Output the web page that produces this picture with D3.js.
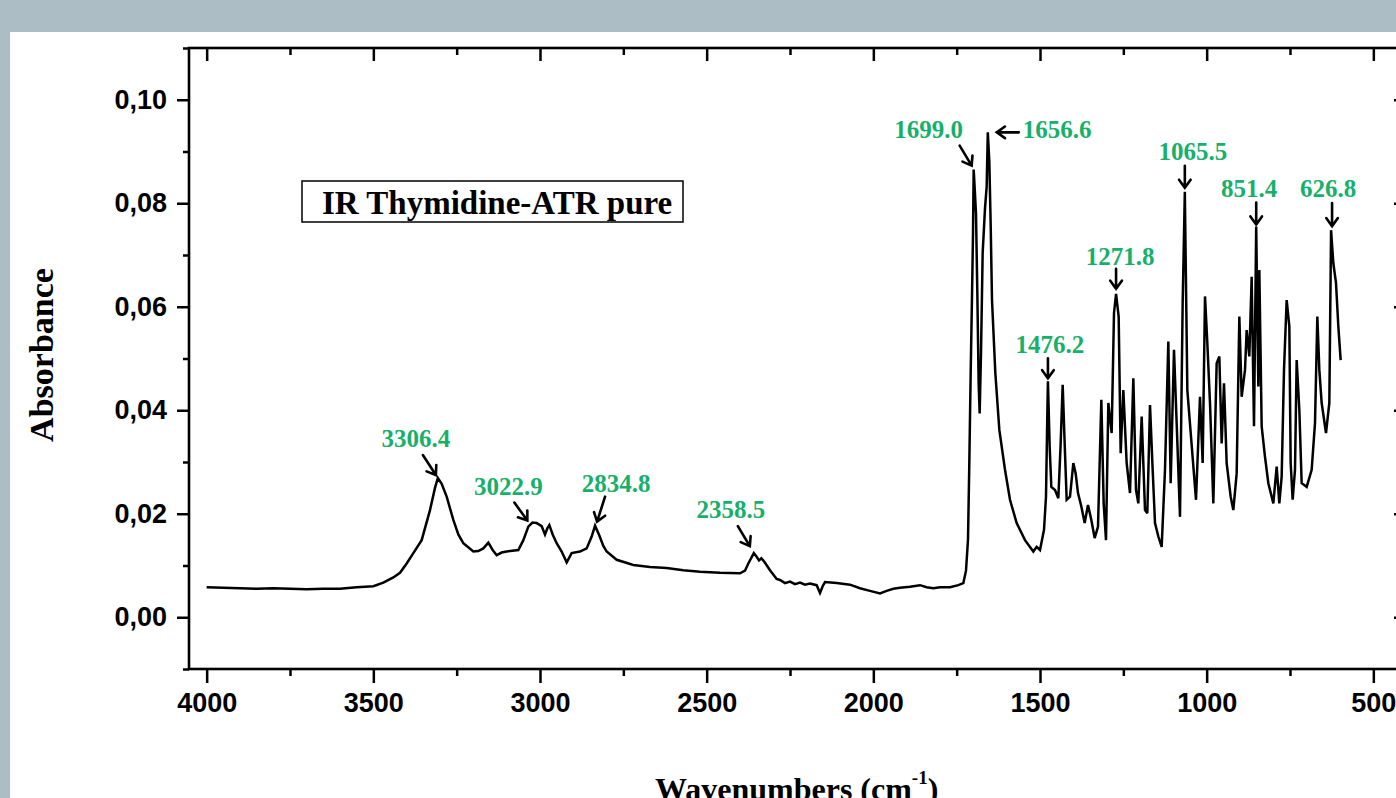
<!DOCTYPE html>
<html><head><meta charset="utf-8">
<script src="https://cdn.jsdelivr.net/npm/d3@7"></script>
<style>
html,body{margin:0;padding:0;background:#adbdc5;overflow:hidden;}
svg{display:block}
</style></head>
<body><svg id="c" width="1396" height="798"></svg>
<script>
// ---- data ----
const wavenumbers = [4000,3950,3900,3850,3800,3750,3700,3650,3600,3550,3500,3470,3440,3420,3400,3380,3355,3330,3315,3306.4,3295,3280,3260,3245,3230,3200,3185,3170,3155,3142,3130,3115,3100,3065,3050,3035,3022.9,3010,2995,2985,2978,2972,2962,2950,2935,2920,2905,2880,2860,2845,2834.8,2822,2810,2800,2770,2720,2670,2620,2570,2520,2460,2400,2385,2375,2358.5,2350,2343,2336,2328,2310,2290,2280,2265,2250,2235,2220,2205,2190,2170,2160,2152,2145,2110,2070,2040,2010,1980,1960,1940,1920,1890,1860,1840,1820,1800,1770,1745,1730,1722,1716,1712,1708,1704,1701,1699.0,1696,1692,1688,1684,1681,1677,1672,1665,1660,1656.6,1652,1648,1644,1634,1622,1605,1590,1570,1545,1520,1510,1500,1488,1482,1478,1476.2,1471,1466,1455,1445,1438,1432,1426,1420,1410,1400,1393,1386,1376,1366,1356,1346,1336,1326,1316,1309,1302,1295,1285,1278,1271.8,1264,1258,1250,1240,1230,1220,1212,1205,1195,1185,1178,1170,1162,1155,1145,1135,1125,1115,1108,1098,1090,1080,1072,1065.5,1058,1047,1032,1020,1012,1005,998,990,980,970,962,955,948,940,928,920,910,902,895,885,880,872,865,858,851.4,845,842,835,825,815,800,790,782,775,768,760,752,748,742,735,730,722,715,700,685,675,668,662,655,642,632,626.8,620,612,605,598];
const absorbance = [0.0058,0.0057,0.0056,0.0055,0.0056,0.0055,0.0054,0.0055,0.0055,0.0058,0.0060,0.0067,0.0077,0.0086,0.0104,0.0124,0.0149,0.0207,0.0250,0.0269,0.0258,0.0233,0.0188,0.0160,0.0143,0.0127,0.0128,0.0133,0.0144,0.0130,0.0120,0.0125,0.0127,0.0130,0.0149,0.0175,0.0183,0.0182,0.0176,0.0160,0.0172,0.0178,0.0160,0.0143,0.0127,0.0106,0.0124,0.0127,0.0133,0.0156,0.0177,0.0158,0.0138,0.0127,0.0111,0.0101,0.0097,0.0095,0.0091,0.0088,0.0086,0.0085,0.0090,0.0104,0.0124,0.0117,0.0110,0.0114,0.0108,0.0091,0.0074,0.0072,0.0066,0.0069,0.0064,0.0067,0.0063,0.0065,0.0062,0.0047,0.0060,0.0068,0.0066,0.0063,0.0056,0.0051,0.0046,0.0051,0.0055,0.0057,0.0059,0.0062,0.0058,0.0056,0.0058,0.0058,0.0062,0.0066,0.0090,0.0150,0.0300,0.0470,0.0620,0.0740,0.0865,0.0830,0.0780,0.0626,0.0450,0.0394,0.0510,0.0704,0.0790,0.0832,0.0937,0.0880,0.0760,0.0613,0.0472,0.0362,0.0285,0.0227,0.0182,0.0149,0.0127,0.0136,0.0130,0.0169,0.0233,0.0394,0.0456,0.0330,0.0252,0.0246,0.0230,0.0336,0.0449,0.0336,0.0227,0.0233,0.0298,0.0278,0.0240,0.0214,0.0182,0.0217,0.0188,0.0153,0.0175,0.0420,0.0220,0.0149,0.0414,0.0356,0.0588,0.0625,0.0581,0.0317,0.0439,0.0298,0.0240,0.0462,0.0246,0.0220,0.0388,0.0207,0.0201,0.0410,0.0285,0.0182,0.0156,0.0136,0.0285,0.0533,0.0259,0.0517,0.0375,0.0194,0.0607,0.0822,0.0439,0.0349,0.0227,0.0426,0.0298,0.0620,0.0530,0.0414,0.0220,0.0491,0.0504,0.0336,0.0452,0.0298,0.0233,0.0207,0.0278,0.0581,0.0426,0.0478,0.0555,0.0504,0.0658,0.0369,0.0755,0.0446,0.0671,0.0369,0.0310,0.0259,0.0220,0.0291,0.0220,0.0272,0.0478,0.0613,0.0562,0.0298,0.0227,0.0285,0.0497,0.0401,0.0259,0.0252,0.0285,0.0375,0.0581,0.0478,0.0414,0.0356,0.0414,0.0748,0.0684,0.0646,0.0562,0.0497];

const peakLabels = ["3306.4","3022.9","2834.8","2358.5","1699.0","1656.6","1476.2","1271.8","1065.5","851.4","626.8"];
const peakWavenumbers = [3306.4,3022.9,2834.8,2358.5,1699.0,1656.6,1476.2,1271.8,1065.5,851.4,626.8];

const xMajorTicks = [4000,3500,3000,2500,2000,1500,1000,500];
const xMinorTicks = [3750,3250,2750,2250,1750,1250,750];
const yMajorTicks = [0,0.02,0.04,0.06,0.08,0.10];
const yMinorTicks = [-0.01,0.01,0.03,0.05,0.07,0.09,0.11];
const yTickLabels = ["0,00","0,02","0,04","0,06","0,08","0,10"];

const legendText = "IR Thymidine-ATR pure";
const xTitle = "Wavenumbers (cm";
const xTitleSup = "-1";
const yTitle = "Absorbance";

// ---- layout ----
const svg = d3.select("#c");
const SANS = "'Liberation Sans', Arial, sans-serif";
const SERIF = "'Liberation Serif', 'Times New Roman', serif";
const GREEN = "#17b06b";

svg.append("rect").attr("x",10).attr("y",32).attr("width",1396).attr("height",798).attr("fill","#fff");

const L = 189, R = 1406, T = 48, B = 669;
const xs = d3.scaleLinear().domain([4053, 402]).range([L, R]);
const ys = d3.scaleLinear().domain([-0.01, 0.11]).range([B, T]);

// spectrum
const pts = wavenumbers.map((w,i)=>[w, absorbance[i]]);
svg.append("path").datum(pts)
  .attr("fill","none").attr("stroke","#000").attr("stroke-width",2.5)
  .attr("stroke-linejoin","miter").attr("stroke-miterlimit",3)
  .attr("d", d3.line().x(d=>xs(d[0])).y(d=>ys(d[1])));

// axes
function styleAxis(g){
  g.select(".domain").remove();
  g.selectAll(".tick line").attr("stroke","#000").attr("stroke-width",2.5);
  g.selectAll("text").attr("font-family",SANS).attr("font-weight","bold").attr("font-size","27px").attr("fill","#000");
}
svg.append("g").attr("transform",`translate(0,${B})`)
  .call(d3.axisBottom(xs).tickValues(xMajorTicks).tickSize(14).tickPadding(10).tickFormat(d3.format("d")))
  .call(styleAxis);
svg.append("g").attr("transform",`translate(0,${B})`)
  .call(d3.axisBottom(xs).tickValues(xMinorTicks).tickSize(7).tickFormat(""))
  .call(styleAxis);
svg.append("g").attr("transform",`translate(0,${T})`)
  .call(d3.axisTop(xs).tickValues(xMajorTicks).tickSize(-13).tickFormat(""))
  .call(styleAxis);
svg.append("g").attr("transform",`translate(0,${T})`)
  .call(d3.axisTop(xs).tickValues(xMinorTicks).tickSize(-7).tickFormat(""))
  .call(styleAxis);
svg.append("g").attr("transform",`translate(${L},0)`)
  .call(d3.axisLeft(ys).tickValues(yMajorTicks).tickSize(12).tickPadding(10).tickFormat((d,i)=>yTickLabels[i]))
  .call(styleAxis);
svg.append("g").attr("transform",`translate(${L},0)`)
  .call(d3.axisLeft(ys).tickValues(yMinorTicks).tickSize(6).tickFormat(""))
  .call(styleAxis);
svg.append("g").attr("transform",`translate(${R},0)`)
  .call(d3.axisRight(ys).tickValues(yMajorTicks).tickSize(-12).tickFormat(""))
  .call(styleAxis);

// frame
svg.append("rect").attr("x",L).attr("y",T).attr("width",R-L).attr("height",B-T)
  .attr("fill","none").attr("stroke","#000").attr("stroke-width",2.6);

// axis titles
svg.append("text").attr("transform","translate(53,355) rotate(-90)")
  .attr("text-anchor","middle").attr("font-family",SERIF).attr("font-weight","bold")
  .attr("font-size","34px").text(yTitle);
const xt = svg.append("text").attr("x",655).attr("y",800)
  .attr("font-family",SERIF).attr("font-weight","bold").attr("font-size","32px");
xt.append("tspan").text(xTitle);
xt.append("tspan").attr("dy",-16).attr("font-size","19px").text(xTitleSup);
xt.append("tspan").attr("dy",16).text(")");

// legend
svg.append("rect").attr("x",302).attr("y",181).attr("width",381).attr("height",41)
  .attr("fill","#fff").attr("stroke","#000").attr("stroke-width",1.5);
svg.append("text").attr("x",322).attr("y",214).attr("font-family",SERIF).attr("font-weight","bold")
  .attr("font-size","33px").attr("fill","#000").text(legendText);

// peak annotations: offsets relative to the peak point (tip, tail, text, anchor)
const annLayout = {
  "3306.4": {tip:[-2,-3], tail:[-15,-23], txt:[-22,-31], a:"middle"},
  "3022.9": {tip:[-5,-2], tail:[-18,-20], txt:[-24,-28], a:"middle"},
  "2834.8": {tip:[2,-4], tail:[10,-29], txt:[21,-34], a:"middle"},
  "2358.5": {tip:[-4,-7], tail:[-16,-27], txt:[-23,-35], a:"middle"},
  "1699.0": {tip:[-2,-4], tail:[-14,-24], txt:[-45,-32], a:"middle"},
  "1656.6": {tip:[9,0], tail:[31,0], txt:[35,6], a:"start"},
  "1476.2": {tip:[0,-3], tail:[0,-23], txt:[2,-28], a:"middle"},
  "1271.8": {tip:[0,-5], tail:[0,-25], txt:[4,-29], a:"middle"},
  "1065.5": {tip:[0,-4], tail:[0,-26], txt:[8,-32], a:"middle"},
  "851.4":  {tip:[0,-2], tail:[0,-24], txt:[-7,-30], a:"middle"},
  "626.8":  {tip:[1,-4], tail:[1,-27], txt:[-3,-33], a:"middle"}
};
const ann = svg.append("g");
peakLabels.forEach((lab,i)=>{
  const w = peakWavenumbers[i];
  const idx = wavenumbers.indexOf(w);
  const px = xs(w), py = ys(absorbance[idx]);
  const o = annLayout[lab];
  const tx = px+o.tip[0], ty = py+o.tip[1];
  const sx = px+o.tail[0], sy = py+o.tail[1];
  const ang = Math.atan2(ty-sy, tx-sx);
  const hl = 10, ha = 0.62;
  const h1 = [tx - hl*Math.cos(ang-ha), ty - hl*Math.sin(ang-ha)];
  const h2 = [tx - hl*Math.cos(ang+ha), ty - hl*Math.sin(ang+ha)];
  ann.append("path")
    .attr("d",`M${sx},${sy}L${tx},${ty}M${h1[0]},${h1[1]}L${tx},${ty}L${h2[0]},${h2[1]}`)
    .attr("fill","none").attr("stroke","#000").attr("stroke-width",2.6).attr("stroke-linecap","round").attr("stroke-linejoin","miter");
  ann.append("text").attr("x",px+o.txt[0]).attr("y",py+o.txt[1])
    .attr("text-anchor",o.a).attr("font-family",SERIF).attr("font-weight","bold")
    .attr("font-size","25px").attr("fill",GREEN).text(lab);
});
</script>
</body></html>
